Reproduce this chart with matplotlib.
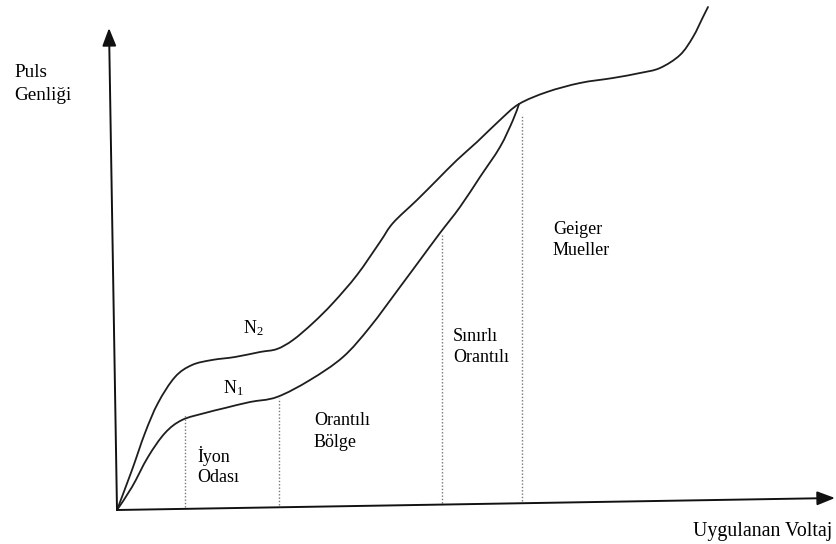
import numpy as np
import matplotlib
matplotlib.use("Agg")
import matplotlib.pyplot as plt
from matplotlib.path import Path
from matplotlib.patches import PathPatch

plt.rcParams["font.family"] = ["Liberation Serif", "DejaVu Serif"]
plt.rcParams["mathtext.fontset"] = "custom"
plt.rcParams["mathtext.rm"] = "Liberation Serif"
plt.rcParams["mathtext.default"] = "rm"

# Applied voltage (arbitrary units) and pulse amplitude for the two curves
n2_voltage = [0, 15, 28, 41, 58, 75, 95, 118, 143, 160, 176, 196, 216, 240,
              263, 276, 300, 320, 340, 360, 383, 402]
n2_amp = [0, 40, 77, 107, 133, 145, 150, 153, 158, 161, 170, 187, 207, 235,
          268, 287, 310, 330, 350, 368, 390, 406]

n1_voltage = [0, 15, 31, 48, 65, 88, 108, 133, 160, 193, 226, 253, 283, 303,
              323, 343, 363, 383, 396, 402]
n1_amp = [0, 23, 53, 77, 90, 97, 102, 108, 113, 130, 153, 183, 223, 250,
          277, 303, 333, 363, 390, 406]

# Common Geiger-Mueller branch where both curves coincide
gm_voltage = [402, 430, 463, 496, 523, 543, 563, 576, 586, 591]
gm_amp = [406, 418, 427, 432, 437, 442, 455, 473, 493, 503]

# Region boundaries on the voltage axis and the height of each marker line
region_bounds = [68, 162, 325, 405]
region_tops = [95, 112, 277, 395]

# Axis ends (slightly hand-drawn slant)
x_axis_end = (718, 12)
y_axis_end = (-8, 482)


def smooth_path(xs, ys):
    """Catmull-Rom curve through the given points, as cubic Bezier segments."""
    pts = np.column_stack([xs, ys]).astype(float)
    ext = np.vstack([pts[0], pts, pts[-1]])
    verts = [pts[0]]
    codes = [Path.MOVETO]
    for i in range(1, len(ext) - 2):
        p0, p1, p2, p3 = ext[i - 1], ext[i], ext[i + 1], ext[i + 2]
        c1 = p1 + (p2 - p0) / 6.0
        c2 = p2 - (p3 - p1) / 6.0
        verts += [c1, c2, p2]
        codes += [Path.CURVE4] * 3
    return Path(verts, codes)


fig = plt.figure(figsize=(8.37, 5.44), dpi=100)
ax = fig.add_axes([0, 0, 1, 1])
ax.set_xlim(-117, 720)
ax.set_ylim(-34, 510)
ax.axis("off")

curve_kw = dict(facecolor="none", edgecolor="#1e1e1e", lw=1.3,
                joinstyle="round", capstyle="round")

ax.add_patch(PathPatch(smooth_path(n2_voltage + gm_voltage[1:],
                                   n2_amp + gm_amp[1:]), **curve_kw))
ax.add_patch(PathPatch(smooth_path(n1_voltage, n1_amp), **curve_kw))

# Axes with arrow heads
arrow_kw = dict(arrowstyle="-|>,head_length=0.9,head_width=0.35",
                color="#111111", lw=1.4, shrinkA=0, shrinkB=0,
                mutation_scale=12)
ax.annotate("", xy=x_axis_end, xytext=(0, 0), arrowprops=arrow_kw)
ax.annotate("", xy=y_axis_end, xytext=(0, 0), arrowprops=arrow_kw)

# Dotted region dividers rising from the voltage axis to the N1 curve
slope = x_axis_end[1] / x_axis_end[0]
for xb, top in zip(region_bounds, region_tops):
    base = slope * xb + 2
    ax.plot([xb, xb], [base, top], color="#777777", lw=1.0,
            linestyle=(0, (1, 1.4)))

fs = 13
ax.text(-103, 433, "Puls", fontsize=fs + 0.8, va="baseline", ha="left")
ax.text(-103, 410, "Genliği", fontsize=fs + 0.8, va="baseline", ha="left")
ax.text(576, -26, "Uygulanan Voltaj", fontsize=fs + 1.3, va="baseline",
        ha="left")

ax.text(126, 177, r"N$_2$", fontsize=fs, va="baseline", ha="left")
ax.text(106, 117, r"N$_1$", fontsize=fs, va="baseline", ha="left")

ax.text(80, 48, "İyon", fontsize=fs, va="baseline", ha="left")
ax.text(80, 28, "Odası", fontsize=fs, va="baseline", ha="left")
ax.text(197, 85, "Orantılı", fontsize=fs, va="baseline", ha="left")
ax.text(197, 63, "Bölge", fontsize=fs, va="baseline", ha="left")
ax.text(336, 169, "Sınırlı", fontsize=fs, va="baseline", ha="left")
ax.text(336, 148, "Orantılı", fontsize=fs, va="baseline", ha="left")
ax.text(436, 276, "Geiger", fontsize=fs, va="baseline", ha="left")
ax.text(436, 255, "Mueller", fontsize=fs, va="baseline", ha="left")

fig.savefig("out.png", dpi=100, facecolor="white")
